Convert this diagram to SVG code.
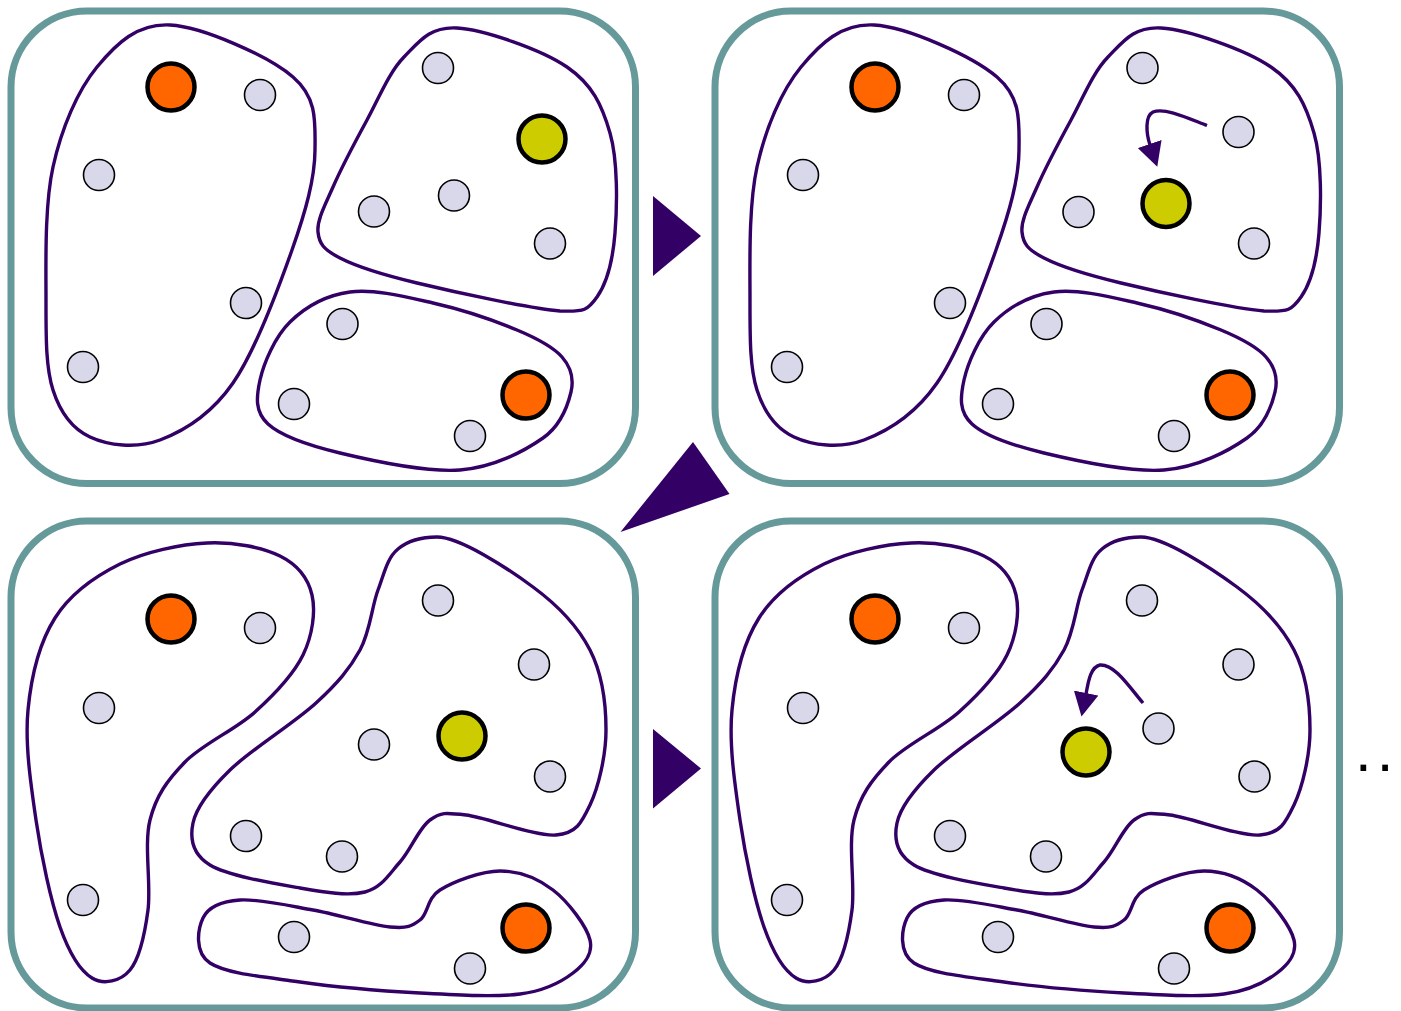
<svg xmlns="http://www.w3.org/2000/svg" xmlns:xlink="http://www.w3.org/1999/xlink" width="1401" height="1011" viewBox="0 0 1401 1011">
  <style>
    .frame { fill: #ffffff; stroke: #669999; stroke-width: 7; }
    .blob { fill: #ffffff; stroke: #330066; stroke-width: 3.4; }
    .pt { fill: #d8d8ea; stroke: #000000; stroke-width: 1.6; }
    .med { stroke: #000000; stroke-width: 4.5; }
    .orange { fill: #ff6600; }
    .olive { fill: #cccc00; }
    .step { fill: #330066; }
    .move { fill: none; stroke: #330066; stroke-width: 3.4; marker-end: url(#head); }
    .more { font-family: "Liberation Sans", Arial, sans-serif; font-size: 60px; fill: #000000; letter-spacing: 5px; }
  </style>
  <defs>
    <marker id="head" viewBox="0 0 24 25" refX="1" refY="12.5" markerWidth="24" markerHeight="25" markerUnits="userSpaceOnUse" orient="auto">
      <path d="M0,0 L24,12.5 L0,25 Z" fill="#330066"/>
    </marker>
    <!-- cluster outlines, first row layout -->
    <path id="r1a" class="blob" d="M170,25 C202.7,26.7 268.8,56.2 293,77 C317.2,97.8 315.2,121.2 315,150 C314.8,178.8 305.7,211.2 292,250 C278.3,288.8 255,351.3 233,383 C211,414.7 183.8,431 160,440 C136.2,449 107.8,445.3 90,437 C72.2,428.7 60.3,412.8 53,390 C45.7,367.2 46,337.2 46,300 C46,262.8 44.5,205.8 53,167 C61.5,128.2 77.5,90.7 97,67 C116.5,43.3 137.3,23.3 170,25 Z"/>
    <path id="r1b" class="blob" d="M457,28 C484.2,29.7 541.5,49.5 567,67 C592.5,84.5 602,105.3 610,133 C618,160.7 617.2,205.7 615,233 C612.8,260.3 606.2,284 597,297 C587.8,310 585,312 560,311 C530,308.7 453.7,291.8 417,283 C380.3,274.2 356.5,266.5 340,258 C323.5,249.5 319.2,243.8 318,232 C316.8,220.2 324.8,205.7 333,187 C341.2,168.3 355.2,141.7 367,120 C378.8,98.3 389,72.3 404,57 C419,41.7 429.8,26.3 457,28 Z"/>
    <path id="r1c" class="blob" d="M350,292 C373.8,288.8 405.2,296.7 433,303 C460.8,309.3 495.5,321 517,330 C538.5,339 553,346.7 562,357 C571,367.3 574.2,378.5 571,392 C567.8,405.5 561.5,425 543,438 C524.5,451 493.8,467.5 460,470 C426.2,472.5 372,460.7 340,453 C308,445.3 281.3,436.2 268,424 C254.7,411.8 256.3,397 260,380 C263.7,363 275,336.7 290,322 C305,307.3 326.2,295.2 350,292 Z"/>
    <!-- cluster outlines, second row layout -->
    <path id="r2a" class="blob" d="M207,543 C233.7,541.7 262.5,547.3 280,556 C297.5,564.7 308.2,578.5 312,595 C315.8,611.5 312.5,635.5 303,655 C293.5,674.5 274.7,694.2 255,712 C235.3,729.8 202.5,744 185,762 C167.5,780 156.2,795.3 150,820 C143.8,844.7 151.3,885 148,910 C144.7,935 139.3,958.7 130,970 C120.7,981.3 103.7,985.2 92,978 C80.3,970.8 69.3,953.3 60,927 C50.7,900.7 41.3,856.2 36,820 C30.7,783.8 24.8,743.7 28,710 C31.2,676.3 39.7,642.3 55,618 C70.3,593.7 94.7,576.5 120,564 C145.3,551.5 180.3,544.3 207,543 Z"/>
    <path id="r2b" class="blob" d="M437,537 C460,537 507.5,568.2 533,587 C558.5,605.8 577.8,626.2 590,650 C602.2,673.8 606,704.2 606,730 C606,755.8 598.3,787.5 590,805 C581.7,822.5 576.7,833.3 556,835 C535.3,836.7 487,817.5 466,815 C445,812.5 441,812.2 430,820 C419,827.8 410.8,850 400,862 C389.2,874 381.7,887.7 365,892 C348.3,896.3 325.8,892.5 300,888 C274.2,883.5 227.8,875.8 210,865 C192.2,854.2 189.7,838.8 193,823 C196.3,807.2 209.5,790 230,770 C250.5,750 294.3,723 316,703 C337.7,683 349.7,668.8 360,650 C370.3,631.2 371.7,606.7 378,590 C384.3,573.3 387,558 398,549 C407,541.5 418,537 437,537 Z"/>
    <path id="r2c" class="blob" d="M240,900 C258.3,898.7 288,905.5 313,910 C338,914.5 372.2,925.3 390,927 C407.8,928.7 411.7,926.2 420,920 C428.3,913.8 426.7,898.2 440,890 C453.3,881.8 481.2,871 500,871 C518.8,871 538,878.5 553,890 C568,901.5 586.7,926.2 590,940 C593.3,953.8 584.7,964 573,973 C561.3,982 545.5,990.7 520,994 C494.5,997.3 456.7,995 420,993 C383.3,991 335,987 300,982 C265,977 226.2,973.7 210,963 C193.8,952.3 198,928.5 203,918 C208,907.5 221.7,901.3 240,900 Z"/>
  </defs>

  <!-- panel 1: initial assignment -->
  <g id="panel-1">
    <rect class="frame" x="11" y="11" width="624.5" height="472.5" rx="76"/>
    <g id="p1-cluster-a">
      <use href="#r1a"/>
      <circle id="p1-a0" class="med orange" cx="171" cy="87" r="23.5"/>
      <circle id="p1-a1" class="pt" cx="260" cy="95" r="15.5"/>
      <circle id="p1-a2" class="pt" cx="99" cy="175" r="15.5"/>
      <circle id="p1-a3" class="pt" cx="246" cy="303" r="15.5"/>
      <circle id="p1-a4" class="pt" cx="83" cy="367" r="15.5"/>
    </g>
    <g id="p1-cluster-b">
      <use href="#r1b"/>
      <circle id="p1-b0" class="med olive" cx="542" cy="139" r="23.5"/>
      <circle id="p1-b1" class="pt" cx="438" cy="68" r="15.5"/>
      <circle id="p1-b2" class="pt" cx="374" cy="211.5" r="15.5"/>
      <circle id="p1-b3" class="pt" cx="454" cy="195.5" r="15.5"/>
      <circle id="p1-b4" class="pt" cx="550" cy="243.5" r="15.5"/>
    </g>
    <g id="p1-cluster-c">
      <use href="#r1c"/>
      <circle id="p1-c0" class="med orange" cx="526" cy="395" r="23.5"/>
      <circle id="p1-c1" class="pt" cx="342.5" cy="324" r="15.5"/>
      <circle id="p1-c2" class="pt" cx="294" cy="404" r="15.5"/>
      <circle id="p1-c3" class="pt" cx="470" cy="436" r="15.5"/>
    </g>
  </g>

  <!-- panel 2: medoid swap inside cluster b -->
  <g id="panel-2">
    <rect class="frame" x="715" y="11" width="624.5" height="472.5" rx="76"/>
    <g id="p2-cluster-a">
      <use href="#r1a" transform="translate(704,0)"/>
      <circle id="p2-a0" class="med orange" cx="875" cy="87" r="23.5"/>
      <circle id="p2-a1" class="pt" cx="964" cy="95" r="15.5"/>
      <circle id="p2-a2" class="pt" cx="803" cy="175" r="15.5"/>
      <circle id="p2-a3" class="pt" cx="950" cy="303" r="15.5"/>
      <circle id="p2-a4" class="pt" cx="787" cy="367" r="15.5"/>
    </g>
    <g id="p2-cluster-b">
      <use href="#r1b" transform="translate(704,0)"/>
      <circle id="p2-b0" class="med olive" cx="1166" cy="203.5" r="23.5"/>
      <circle id="p2-b1" class="pt" cx="1142.5" cy="68" r="15.5"/>
      <circle id="p2-b2" class="pt" cx="1078.5" cy="212" r="15.5"/>
      <circle id="p2-b3" class="pt" cx="1238.5" cy="132" r="15.5"/>
      <circle id="p2-b4" class="pt" cx="1254" cy="243.5" r="15.5"/>
    </g>
    <g id="p2-cluster-c">
      <use href="#r1c" transform="translate(704,0)"/>
      <circle id="p2-c0" class="med orange" cx="1230" cy="395" r="23.5"/>
      <circle id="p2-c1" class="pt" cx="1046.5" cy="324" r="15.5"/>
      <circle id="p2-c2" class="pt" cx="998" cy="404" r="15.5"/>
      <circle id="p2-c3" class="pt" cx="1174" cy="436" r="15.5"/>
    </g>
  </g>

  <!-- panel 3: reassignment of points -->
  <g id="panel-3">
    <rect class="frame" x="11" y="521" width="624.5" height="487" rx="76"/>
    <g id="p3-cluster-a">
      <use href="#r2a"/>
      <circle id="p3-a0" class="med orange" cx="171" cy="619" r="23.5"/>
      <circle id="p3-a1" class="pt" cx="260" cy="628" r="15.5"/>
      <circle id="p3-a2" class="pt" cx="99" cy="708" r="15.5"/>
      <circle id="p3-a3" class="pt" cx="83" cy="900" r="15.5"/>
    </g>
    <g id="p3-cluster-b">
      <use href="#r2b"/>
      <circle id="p3-b0" class="med olive" cx="462" cy="736" r="23.5"/>
      <circle id="p3-b1" class="pt" cx="438" cy="600.5" r="15.5"/>
      <circle id="p3-b2" class="pt" cx="534" cy="664.5" r="15.5"/>
      <circle id="p3-b3" class="pt" cx="374" cy="744.5" r="15.5"/>
      <circle id="p3-b4" class="pt" cx="550" cy="776.5" r="15.5"/>
      <circle id="p3-b5" class="pt" cx="246" cy="836" r="15.5"/>
      <circle id="p3-b6" class="pt" cx="342" cy="856.5" r="15.5"/>
    </g>
    <g id="p3-cluster-c">
      <use href="#r2c"/>
      <circle id="p3-c0" class="med orange" cx="526" cy="928" r="23.5"/>
      <circle id="p3-c1" class="pt" cx="294" cy="937" r="15.5"/>
      <circle id="p3-c2" class="pt" cx="470" cy="968.5" r="15.5"/>
    </g>
  </g>

  <!-- panel 4: next medoid swap -->
  <g id="panel-4">
    <rect class="frame" x="715" y="521" width="624.5" height="487" rx="76"/>
    <g id="p4-cluster-a">
      <use href="#r2a" transform="translate(704,0)"/>
      <circle id="p4-a0" class="med orange" cx="875" cy="619" r="23.5"/>
      <circle id="p4-a1" class="pt" cx="964" cy="628" r="15.5"/>
      <circle id="p4-a2" class="pt" cx="803" cy="708" r="15.5"/>
      <circle id="p4-a3" class="pt" cx="787" cy="900" r="15.5"/>
    </g>
    <g id="p4-cluster-b">
      <use href="#r2b" transform="translate(704,0)"/>
      <circle id="p4-b0" class="med olive" cx="1086" cy="752" r="23.5"/>
      <circle id="p4-b1" class="pt" cx="1142" cy="600.5" r="15.5"/>
      <circle id="p4-b2" class="pt" cx="1238.5" cy="664.5" r="15.5"/>
      <circle id="p4-b3" class="pt" cx="1158.5" cy="728.5" r="15.5"/>
      <circle id="p4-b4" class="pt" cx="1254.5" cy="776.5" r="15.5"/>
      <circle id="p4-b5" class="pt" cx="950" cy="836" r="15.5"/>
      <circle id="p4-b6" class="pt" cx="1046" cy="856.5" r="15.5"/>
    </g>
    <g id="p4-cluster-c">
      <use href="#r2c" transform="translate(704,0)"/>
      <circle id="p4-c0" class="med orange" cx="1230" cy="928" r="23.5"/>
      <circle id="p4-c1" class="pt" cx="998" cy="937" r="15.5"/>
      <circle id="p4-c2" class="pt" cx="1174" cy="968.5" r="15.5"/>
    </g>
  </g>

  <!-- transitions between panels and medoid moves -->
  <g id="connectors">
    <polygon class="step" points="653,196 701,236 653,276"/>
    <polygon class="step" points="693,442 729.5,494 620.5,532"/>
    <polygon class="step" points="653,729 701,768.5 653,808.5"/>
    <path class="move" d="M1207,125.5 C1190,119 1165,107 1153,112 C1145,116 1146,133 1150,145"/>
    <path class="move" d="M1143,703 C1130,688 1115,664 1100,665 C1090,667 1088,684 1086,694"/>
  </g>

  <text class="more" x="1355" y="771">..</text>
</svg>
